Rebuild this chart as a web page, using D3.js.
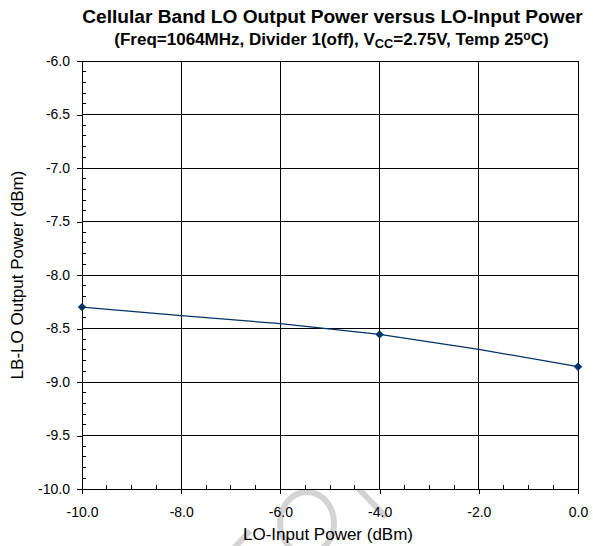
<!DOCTYPE html>
<html><head><meta charset="utf-8">
<script src="https://cdn.jsdelivr.net/npm/d3@7"></script>
<style>
html,body{margin:0;padding:0;background:#fff;}
svg{display:block;font-family:"Liberation Sans",Arial,sans-serif;}
</style></head>
<body><svg id="c" width="593" height="546"></svg>
<script>
// ---- data ----
const inputPower = [-10, -8, -6, -4, -2, 0];           // LO-Input Power (dBm), line points
const outputPower = [-8.30, -8.38, -8.455, -8.555, -8.695, -8.857]; // LB-LO Output Power (dBm)
const markerInput = [-10, -4, 0];
const markerOutput = [-8.30, -8.555, -8.857];
const xTicks = [-10, -8, -6, -4, -2, 0];
const yTicks = [-6.0, -6.5, -7.0, -7.5, -8.0, -8.5, -9.0, -9.5, -10.0];
const xMinor = d3.range(-10, 0.001, 0.5);
const yMinor = d3.range(-10, -5.999, 0.1);
const title = "Cellular Band LO Output Power versus LO-Input Power";
const xTitle = "LO-Input Power (dBm)";
const yTitle = "LB-LO Output Power (dBm)";

const svg = d3.select("#c");
const L = 82, R = 578, T = 61, B = 489;
const x = d3.scaleLinear().domain([-10, 0]).range([L, R]);
const y = d3.scaleLinear().domain([-10, -6]).range([B, T]);

// fit a text element to a target width
function fit(sel, width){
  const w = sel.node().getComputedTextLength();
  const fs = parseFloat(sel.attr("font-size"));
  sel.attr("font-size", fs*width/w);
  sel.selectAll("tspan").each(function(){
    const t = d3.select(this);
    if (t.attr("font-size")) t.attr("font-size", parseFloat(t.attr("font-size"))*width/w);
  });
}

// faint watermark (visible only outside plot area)
const wm = svg.append("g").attr("fill","none").attr("stroke","#d4d4d4").attr("stroke-width",6);
wm.append("ellipse").attr("cx",307).attr("cy",523).attr("rx",27).attr("ry",31);
wm.append("line").attr("x1",352).attr("y1",482).attr("x2",386).attr("y2",517);
wm.append("line").attr("x1",250).attr("y1",531).attr("x2",234).attr("y2",548);

// plot background
svg.append("rect").attr("x",L).attr("y",T).attr("width",R-L).attr("height",B-T).attr("fill","#fff");

// gridlines
const grid = svg.append("g").attr("stroke","#000").attr("stroke-width",1).attr("shape-rendering","crispEdges");
grid.selectAll(".gx").data(xTicks).join("line")
  .attr("x1",d=>x(d)).attr("x2",d=>x(d)).attr("y1",T).attr("y2",B);
grid.selectAll(".gy").data(yTicks).join("line")
  .attr("x1",L).attr("x2",R).attr("y1",d=>y(d)).attr("y2",d=>y(d));

// axes
const fmt = d3.format(".1f");
const fmtT = d => fmt(d).replace("−","-");
const xAxis = svg.append("g").attr("transform",`translate(0,${B})`)
  .call(d3.axisBottom(x).tickValues(xTicks).tickSizeInner(5).tickSizeOuter(0).tickPadding(13).tickFormat(fmtT));
const yAxis = svg.append("g").attr("transform",`translate(${L},0)`)
  .call(d3.axisLeft(y).tickValues(yTicks).tickSizeInner(5).tickSizeOuter(0).tickPadding(7).tickFormat(fmtT));
[xAxis,yAxis].forEach(a=>{
  a.selectAll("text").attr("font-size",14).attr("fill","#000").attr("font-family","Liberation Sans, Arial, sans-serif");
  a.selectAll("line,path").attr("stroke","#000").attr("shape-rendering","crispEdges");
});
// minor ticks (inside)
svg.append("g").attr("stroke","#000").attr("shape-rendering","crispEdges")
  .selectAll("line").data(xMinor).join("line")
  .attr("x1",d=>x(d)).attr("x2",d=>x(d)).attr("y1",B).attr("y2",B-4);
svg.append("g").attr("stroke","#000").attr("shape-rendering","crispEdges")
  .selectAll("line").data(yMinor).join("line")
  .attr("x1",L).attr("x2",L+4).attr("y1",d=>y(d)).attr("y2",d=>y(d));

// line
const pts = inputPower.map((v,i)=>[v,outputPower[i]]);
svg.append("path").datum(pts)
  .attr("fill","none").attr("stroke","#003366").attr("stroke-width",1.2)
  .attr("d", d3.line().x(d=>x(d[0])).y(d=>y(d[1])));
// markers
svg.append("g").selectAll("path").data(markerInput.map((v,i)=>[v,markerOutput[i]])).join("path")
  .attr("transform",d=>`translate(${x(d[0])},${y(d[1])})`)
  .attr("d", d3.symbol().type(d3.symbolDiamond2).size(45))
  .attr("fill","#003366");

// titles
const t1 = svg.append("text").attr("x",332.5).attr("y",23).attr("text-anchor","middle")
  .attr("font-size",16).attr("font-weight","bold").text(title);
fit(t1, 501);
const sub = svg.append("text").attr("x",331.5).attr("y",44.5).attr("text-anchor","middle")
  .attr("font-size",14).attr("font-weight","bold");
sub.append("tspan").text("(Freq=1064MHz, Divider 1(off), V");
sub.append("tspan").attr("font-size",10.5).attr("dy",3).text("CC");
sub.append("tspan").attr("dy",-3).text("=2.75V, Temp 25");
sub.append("tspan").attr("font-size",10).attr("dy",-5).text("o");
sub.append("tspan").attr("dy",5).text("C)");
fit(sub, 435);

svg.append("text").attr("x",328).attr("y",540).attr("text-anchor","middle")
  .attr("font-size",17).text(xTitle);
svg.append("text").attr("transform","translate(23,275) rotate(-90)").attr("text-anchor","middle")
  .attr("font-size",17).text(yTitle);
</script></body></html>
